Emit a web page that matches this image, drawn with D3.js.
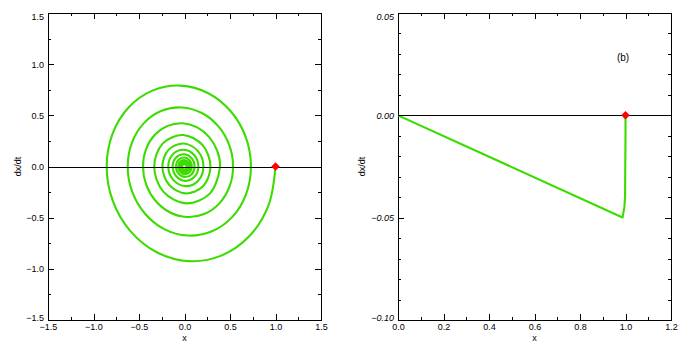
<!DOCTYPE html>
<html><head><meta charset="utf-8">
<script src="https://cdn.jsdelivr.net/npm/d3@7"></script>
<style>body{margin:0;background:#fff}svg{display:block}</style>
</head><body>
<script>
// ---- data: panel (a) phase spiral, x and dx/dt read at successive points along the curve
const spiralX = [1.000,0.925,0.714,0.404,0.046,-0.305,-0.597,-0.789,
 -0.855,-0.790,-0.610,-0.346,-0.040,0.261,0.510,0.674,
 0.730,0.675,0.521,0.295,0.034,-0.223,-0.436,-0.576,
 -0.624,-0.577,-0.446,-0.252,-0.029,0.190,0.373,0.492,
 0.534,0.493,0.381,0.216,0.025,-0.163,-0.319,-0.421,
 -0.456,-0.422,-0.326,-0.184,-0.021,0.139,0.272,0.360,
 0.390,0.278,0.018,-0.233,-0.333,-0.238,-0.015,0.199,
 0.285,0.203,0.013,-0.170,-0.243,-0.174,-0.011,0.145,
 0.208,0.148,0.010,-0.124,-0.178,-0.127,-0.008,0.106,
 0.152,0.108,0.007,-0.091,-0.130,-0.093,-0.006,0.078,
 0.111,0.079,0.005,-0.066,-0.095,-0.068,-0.004,0.057,
 0.081,0.058,0.004,-0.048,-0.069,-0.049,-0.003,0.041,
 0.059,0.042,0.003,-0.035,-0.051,-0.036,-0.002,0.030,
 0.043,0.002,-0.037,-0.002,0.032,0.002,-0.027,-0.001,0.023];
const spiralV = [0.000,-0.375,-0.680,-0.871,-0.925,-0.838,-0.629,-0.334,
 0.000,0.321,0.581,0.744,0.790,0.716,0.537,0.285,
 0.000,-0.274,-0.497,-0.636,-0.675,-0.612,-0.459,-0.244,
 0.000,0.234,0.424,0.544,0.577,0.523,0.392,0.208,
 0.000,-0.200,-0.363,-0.465,-0.493,-0.447,-0.335,-0.178,
 0.000,0.171,0.310,0.397,0.422,0.382,0.287,0.152,
 0.000,-0.265,-0.360,-0.245,0.000,0.226,0.308,0.209,
 0.000,-0.194,-0.263,-0.179,0.000,0.165,0.225,0.153,
 0.000,-0.141,-0.192,-0.131,0.000,0.121,0.164,0.112,
 0.000,-0.103,-0.140,-0.095,0.000,0.088,0.120,0.082,
 0.000,-0.075,-0.103,-0.070,0.000,0.064,0.088,0.060,
 0.000,-0.055,-0.075,-0.051,0.000,0.047,0.064,0.044,
 0.000,-0.040,-0.055,-0.037,0.000,0.034,0.047,0.032,
 0.000,-0.040,0.000,0.034,0.000,-0.029,0.000,0.025,0.000];
// ---- data: panel (b)
const stepX = [1.000, 1.000, 0.998, 0.995, 0.990, 0.987, 0.000];
const stepV = [0.000, -0.010, -0.040, -0.045, -0.048, -0.0499, 0.000];
const startX = [1.0, 1.0];
const startV = [0.0, 0.0];
// ---- tick labels
const leftXTicks = [-1.5, -1.0, -0.5, 0.0, 0.5, 1.0, 1.5];
const leftYTicks = [-1.5, -1.0, -0.5, 0.0, 0.5, 1.0, 1.5];
const rightXTicks = [0.0, 0.2, 0.4, 0.6, 0.8, 1.0, 1.2];
const rightYTicks = [-0.10, -0.05, 0.00, 0.05];
const xTitle = "x";
const yTitle = "dx/dt";
const panelLabels = ["", "(b)"];

const green = "#3cdc00";
const svg = d3.select("body").append("svg").attr("width", 700).attr("height", 350);

function panel(o) {
  const x = d3.scaleLinear().domain(o.xd).range([o.x0, o.x1]);
  const y = d3.scaleLinear().domain(o.yd).range([o.y1, o.y0]);
  const g = svg.append("g");
  const font = "Liberation Sans, Arial, sans-serif";
  const mk = (axis, tx, ty, vals, size, labels, fmt) => {
    const a = axis.tickValues(vals).tickSize(size).tickSizeOuter(0)
      .tickPadding(labels ? o.pad : 0).tickFormat(labels ? fmt : "");
    const s = g.append("g").attr("transform", `translate(${tx},${ty})`).call(a);
    s.select(".domain").remove();
    s.selectAll("line").attr("stroke", "#000").attr("stroke-width", 1).attr("shape-rendering", "crispEdges");
    s.selectAll("text").attr("font-family", font).attr("font-size", 9).attr("fill", "#000");
    return s;
  };
  const minorX = d3.range(o.xd[0], o.xd[1] + 1e-9, o.xm);
  const minorY = d3.range(o.yd[0], o.yd[1] + 1e-9, o.ym);
  mk(d3.axisBottom(x), 0, o.y1, o.xt, -6, true, d3.format(o.xf));
  mk(d3.axisBottom(x), 0, o.y1, minorX, -3, false);
  mk(d3.axisTop(x), 0, o.y0, o.xt, -6, false);
  mk(d3.axisTop(x), 0, o.y0, minorX, -3, false);
  const ly = mk(d3.axisLeft(y), o.x0, 0, o.yt, -6, true, d3.format(o.yf));
  mk(d3.axisLeft(y), o.x0, 0, minorY, -3, false);
  mk(d3.axisRight(y), o.x1, 0, o.yt, -6, false);
  mk(d3.axisRight(y), o.x1, 0, minorY, -3, false);
  if (o.italicY) ly.selectAll("text").attr("font-style", "italic");
  const n = o.yt.length;
  ly.selectAll("text").attr("dy", (d, i) => i === 0 ? "0.1em" : (i === n - 1 ? "0.75em" : "0.32em"));
  g.append("rect").attr("x", o.x0 + 0.5).attr("y", o.y0 + 0.5)
    .attr("width", o.x1 - o.x0).attr("height", o.y1 - o.y0)
    .attr("fill", "none").attr("stroke", "#000").attr("stroke-width", 1);
  const pts = o.px.map((v, i) => [v, o.pv[i]]);
  g.append("path").datum(pts)
    .attr("d", d3.line().x(d => x(d[0])).y(d => y(d[1])).curve(o.curve))
    .attr("fill", "none").attr("stroke", green).attr("stroke-width", 2.1).attr("stroke-linejoin", "round");
  g.append("line").attr("x1", o.x0).attr("x2", o.x1).attr("y1", Math.round(y(0)) + 0.5).attr("y2", Math.round(y(0)) + 0.5)
    .attr("stroke", "#000").attr("stroke-width", 1);
  g.append("path").attr("d", d3.symbol(d3.symbolSquare, 36)())
    .attr("transform", `translate(${x(startX[o.k])},${y(startV[o.k])}) rotate(45)`)
    .attr("fill", "#ff0000");
  g.append("text").attr("x", (o.x0 + o.x1) / 2).attr("y", 341).attr("text-anchor", "middle")
    .attr("font-family", font).attr("font-size", 9).text(xTitle);
  g.append("text").attr("transform", `translate(${o.tx},${(o.y0 + o.y1) / 2}) rotate(-90)`)
    .attr("text-anchor", "middle").attr("dy", "0.35em")
    .attr("font-family", font).attr("font-size", 9).text(yTitle);
  if (panelLabels[o.k]) {
    g.append("text").attr("x", o.lx).attr("y", o.ly).attr("text-anchor", "middle").attr("dy", "0.35em")
      .attr("font-family", font).attr("font-size", 10).text(panelLabels[o.k]);
  }
}

panel({k: 0, x0: 48, x1: 321, y0: 13, y1: 320, xd: [-1.5, 1.5], yd: [-1.5, 1.5],
  xt: leftXTicks, yt: leftYTicks, xm: 0.25, ym: 0.25, xf: ".1f", yf: ".1f", pad: 4,
  px: spiralX, pv: spiralV, curve: d3.curveCatmullRom.alpha(0.5), tx: 18});
panel({k: 1, x0: 398, x1: 671, y0: 13, y1: 320, xd: [0, 1.2], yd: [-0.10, 0.05],
  xt: rightXTicks, yt: rightYTicks, xm: 0.1, ym: 0.01, xf: ".1f", yf: ".2f", pad: 4, italicY: true,
  px: stepX, pv: stepV, curve: d3.curveLinear, tx: 362, lx: 623, ly: 57});
</script>
</body></html>
